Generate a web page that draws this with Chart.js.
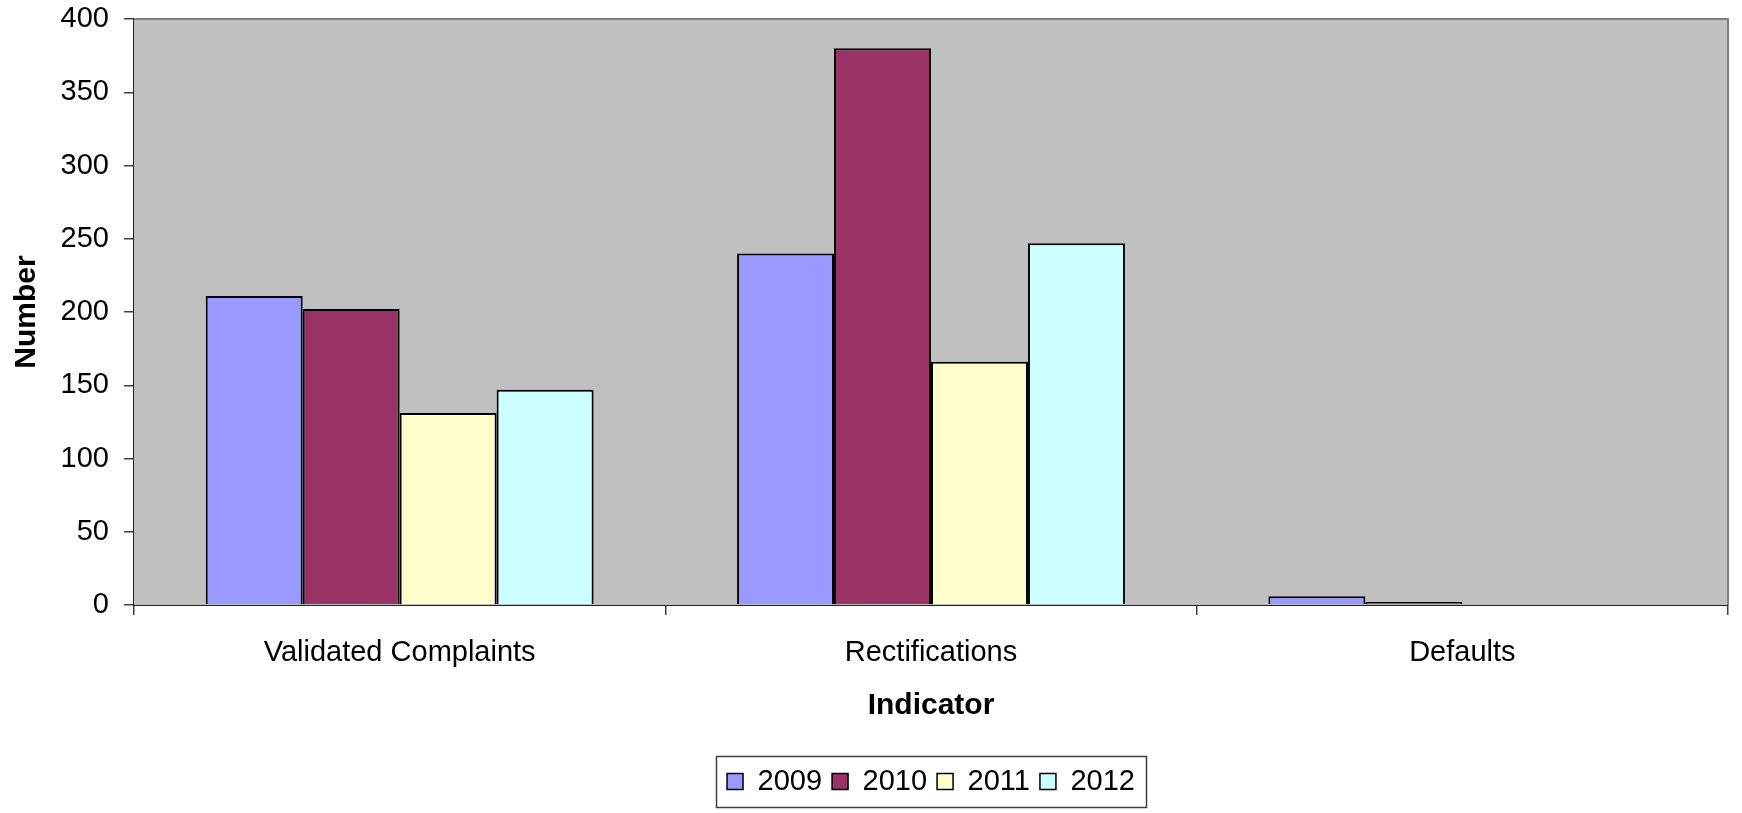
<!DOCTYPE html>
<html>
<head>
<meta charset="utf-8">
<script src="https://cdn.jsdelivr.net/npm/chart.js@4/dist/chart.umd.min.js"></script>
<style>
  html, body { margin: 0; padding: 0; background: #ffffff; }
  #wrap { width: 1742px; height: 813px; }
</style>
</head>
<body>
<div id="wrap"><canvas id="chart" width="1742" height="813"></canvas></div>
<script>
// Indicator categories and yearly counts
const categories = ['Validated Complaints', 'Rectifications', 'Defaults'];
const years = ['2009', '2010', '2011', '2012'];
const values2009 = [211, 240, 6];
const values2010 = [202, 380, 2];
const values2011 = [131, 166, 0];
const values2012 = [147, 247, 0];
const yTicks = [0, 50, 100, 150, 200, 250, 300, 350, 400];

const seriesValues = [values2009, values2010, values2011, values2012];
const seriesColors = ['#9999FF', '#993366', '#FFFFCC', '#CCFFFF'];

const FONT = "'Liberation Sans', Arial, sans-serif";

// Grey plot background plus a thin frame on the top and right edges
const plotFrame = {
  id: 'plotFrame',
  beforeDatasetsDraw(chart) {
    const { ctx, chartArea: a } = chart;
    ctx.save();
    ctx.fillStyle = '#C0C0C0';
    ctx.fillRect(a.left, a.top, a.right - a.left, a.bottom - a.top);
    ctx.strokeStyle = '#808080';
    ctx.lineWidth = 2;
    ctx.beginPath();
    ctx.moveTo(a.left, a.top);
    ctx.lineTo(a.right, a.top);
    ctx.lineTo(a.right, a.bottom);
    ctx.stroke();
    ctx.restore();
  }
};

// Outline around the legend row
const legendBorder = {
  id: 'legendBorder',
  afterDraw(chart) {
    const boxes = chart.legend && chart.legend.legendHitBoxes;
    if (!boxes || !boxes.length) return;
    const first = boxes[0], last = boxes[boxes.length - 1];
    const left = first.left - 11;
    const right = last.left + last.width + 11;
    const top = first.top - 11;
    const bottom = first.top + first.height + 11;
    const { ctx } = chart;
    ctx.save();
    ctx.strokeStyle = '#404040';
    ctx.lineWidth = 1.5;
    ctx.strokeRect(Math.round(left) + 0.5, Math.round(top) + 0.5,
                   Math.round(right - left), Math.round(bottom - top));
    ctx.restore();
  }
};

new Chart(document.getElementById('chart'), {
  type: 'bar',
  data: {
    labels: categories,
    datasets: years.map((y, i) => ({
      label: y,
      data: seriesValues[i],
      backgroundColor: seriesColors[i],
      borderColor: '#000000',
      borderWidth: 2,
      categoryPercentage: 0.73,
      barPercentage: 1.0
    }))
  },
  options: {
    responsive: false,
    animation: false,
    layout: { padding: { left: 0, right: 14, top: 19, bottom: 7 } },
    plugins: {
      tooltip: { enabled: false },
      legend: {
        position: 'bottom',
        fullSize: false,
        labels: {
          color: '#000000',
          font: { family: FONT, size: 29 },
          boxWidth: 16,
          boxHeight: 16,
          padding: 10,
          generateLabels(chart) {
            return chart.data.datasets.map((ds, i) => ({
              text: ds.label,
              fillStyle: ds.backgroundColor,
              strokeStyle: '#000000',
              lineWidth: 1.5,
              datasetIndex: i,
              hidden: false
            }));
          }
        }
      }
    },
    scales: {
      x: {
        afterFit(scale) {
          scale.height = 152;
          scale.paddingLeft = 0;
          scale.paddingRight = 0;
        },
        grid: {
          display: true,
          drawOnChartArea: false,
          drawTicks: true,
          tickLength: 10,
          color: '#404040',
          lineWidth: 1.5
        },
        border: { display: true, color: '#202020', width: 2 },
        ticks: {
          color: '#000000',
          font: { family: FONT, size: 29 },
          padding: 21,
          maxRotation: 0
        },
        title: {
          display: true,
          text: 'Indicator',
          color: '#000000',
          font: { family: FONT, size: 30, weight: 'bold' },
          padding: { top: 0, bottom: 33 }
        }
      },
      y: {
        min: 0,
        max: 400,
        afterFit(scale) {
          scale.width = 134;
          scale.paddingTop = 0;
          scale.paddingBottom = 0;
        },
        afterBuildTicks(scale) { scale.ticks = yTicks.map(v => ({ value: v })); },
        grid: {
          display: true,
          drawOnChartArea: false,
          drawTicks: true,
          tickLength: 10,
          color: '#404040',
          lineWidth: 1.5
        },
        border: { display: true, color: '#202020', width: 2 },
        ticks: {
          color: '#000000',
          font: { family: FONT, size: 29 },
          padding: 15
        },
        title: {
          display: true,
          text: 'Number',
          color: '#000000',
          font: { family: FONT, size: 30, weight: 'bold' },
          padding: { top: 9, bottom: 0 }
        }
      }
    }
  },
  plugins: [plotFrame, legendBorder]
});
</script>
</body>
</html>
